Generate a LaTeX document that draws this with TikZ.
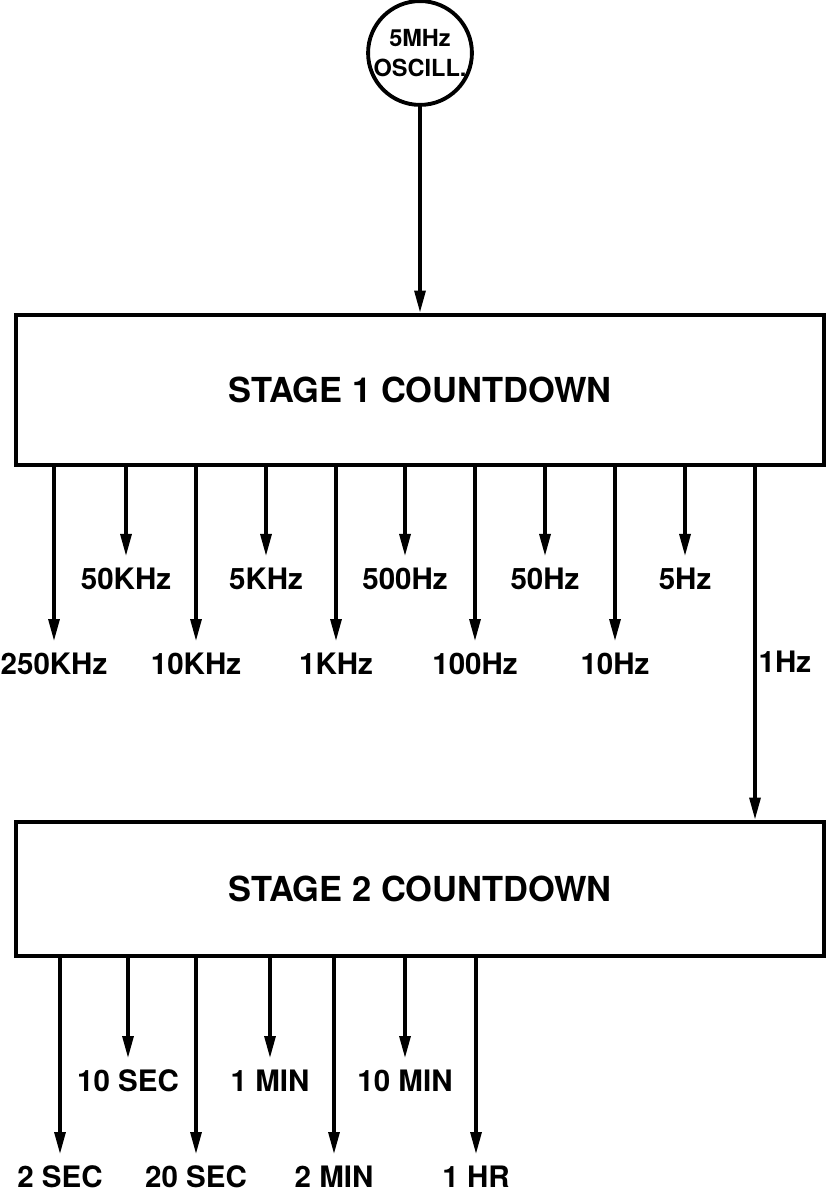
\documentclass[tikz,border=0pt]{standalone}
\usepackage{fontspec}
\setmainfont{TeX Gyre Heros}
\usetikzlibrary{arrows.meta}

\tikzset{
	>={Triangle[length=2.2mm,width=1.1mm]},
	stage/.style = {draw, line width=1.4pt, minimum width=80.8mm, font=\bfseries\fontsize{9.8}{12}\selectfont},
	freq/.style = {anchor=north, inner xsep=0pt, inner ysep=1.1mm, font=\bfseries\fontsize{8.4}{10}\selectfont},
	tap/.style = {->, line width=0.9pt},
}

\begin{document}
\begin{tikzpicture}[x=0.1mm, y=-0.1mm]
	\useasboundingbox (0,0) rectangle (831,1198);
	\node [circle, draw, line width=1.1pt, minimum size=9.8mm, inner sep=0pt, align=center, font=\bfseries\fontsize{6.7}{8.5}\selectfont] (osc) at (420,53) {5MHz\\OSCILL.};
	\node [stage, minimum height=15mm] (s1) at (420,390) {STAGE 1 COUNTDOWN};
	\node [stage, minimum height=13.4mm] (s2) at (420,889) {STAGE 2 COUNTDOWN};
	\draw [tap] (osc) -- (osc |- s1.north);
	% stage 1 outputs
	\node [freq] (f250k) at (54,641) {250KHz};
	\node [freq] (f50k) at (126,556) {50KHz};
	\node [freq] (f10k) at (196,641) {10KHz};
	\node [freq] (f5k) at (266,556) {5KHz};
	\node [freq] (f1k) at (336,641) {1KHz};
	\node [freq] (f500) at (405,556) {500Hz};
	\node [freq] (f100) at (475,641) {100Hz};
	\node [freq] (f50) at (545,556) {50Hz};
	\node [freq] (f10) at (615,641) {10Hz};
	\node [freq] (f5) at (685,556) {5Hz};
	\node [freq, anchor=west, inner xsep=0.3mm, inner ysep=0pt] (f1) at (755,662) {1Hz};
	\draw [tap] (s1.south -| f250k.north) -- (f250k.north);
	\draw [tap] (s1.south -| f50k.north) -- (f50k.north);
	\draw [tap] (s1.south -| f10k.north) -- (f10k.north);
	\draw [tap] (s1.south -| f5k.north) -- (f5k.north);
	\draw [tap] (s1.south -| f1k.north) -- (f1k.north);
	\draw [tap] (s1.south -| f500.north) -- (f500.north);
	\draw [tap] (s1.south -| f100.north) -- (f100.north);
	\draw [tap] (s1.south -| f50.north) -- (f50.north);
	\draw [tap] (s1.south -| f10.north) -- (f10.north);
	\draw [tap] (s1.south -| f5.north) -- (f5.north);
	\draw [tap] (s1.south -| f1.west) -- (s2.north -| f1.west);
	% stage 2 outputs
	\node [freq] (t2s) at (60,1154) {2 SEC};
	\node [freq] (t10s) at (128,1058) {10 SEC};
	\node [freq] (t20s) at (196,1154) {20 SEC};
	\node [freq] (t1m) at (270,1058) {1 MIN};
	\node [freq] (t2m) at (334,1154) {2 MIN};
	\node [freq] (t10m) at (405,1058) {10 MIN};
	\node [freq] (t1h) at (476,1154) {1 HR};
	\draw [tap] (s2.south -| t2s.north) -- (t2s.north);
	\draw [tap] (s2.south -| t10s.north) -- (t10s.north);
	\draw [tap] (s2.south -| t20s.north) -- (t20s.north);
	\draw [tap] (s2.south -| t1m.north) -- (t1m.north);
	\draw [tap] (s2.south -| t2m.north) -- (t2m.north);
	\draw [tap] (s2.south -| t10m.north) -- (t10m.north);
	\draw [tap] (s2.south -| t1h.north) -- (t1h.north);
\end{tikzpicture}
\end{document}
